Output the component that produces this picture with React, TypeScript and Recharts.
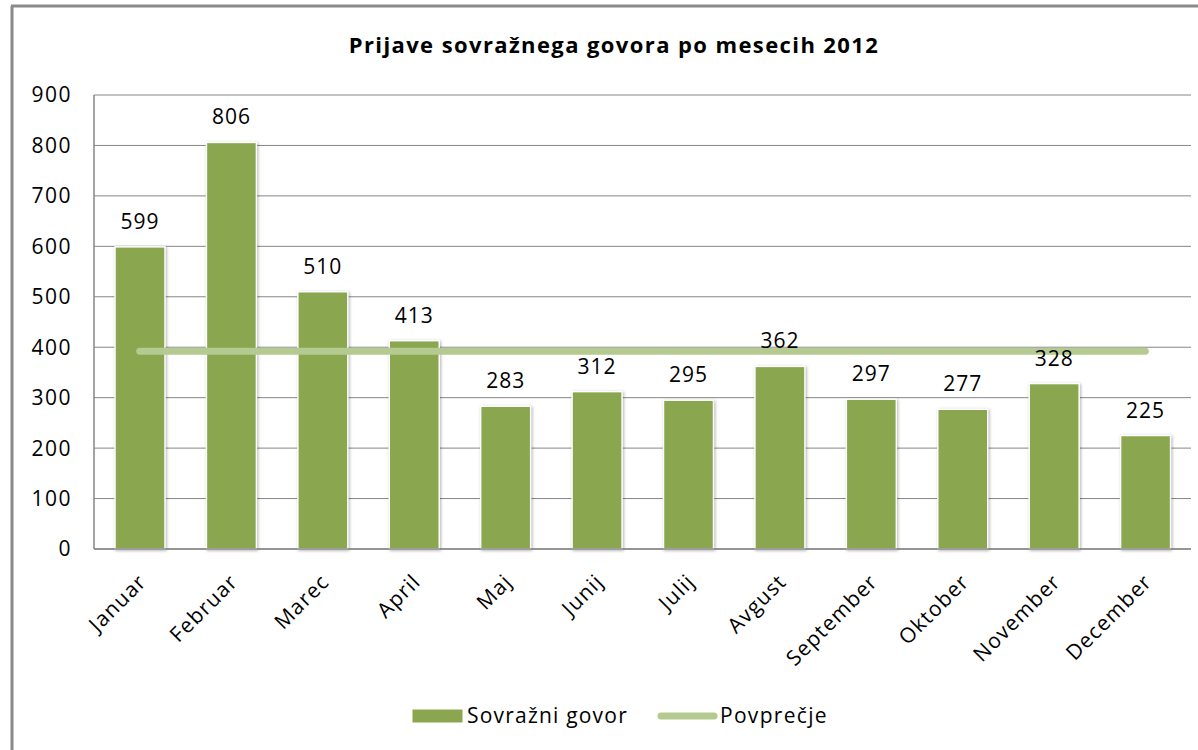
import React from 'react';
import { ComposedChart, Bar, Line, XAxis, YAxis, CartesianGrid, LabelList, Legend } from 'recharts';

const months = ['Januar', 'Februar', 'Marec', 'April', 'Maj', 'Junij', 'Julij', 'Avgust', 'September', 'Oktober', 'November', 'December'];
const reports = [599, 806, 510, 413, 283, 312, 295, 362, 297, 277, 328, 225];
const averageValues = [392.25, 392.25, 392.25, 392.25, 392.25, 392.25, 392.25, 392.25, 392.25, 392.25, 392.25, 392.25];
const yTicks = [0, 100, 200, 300, 400, 500, 600, 700, 800, 900];
const seriesNames = ['Sovražni govor', 'Povprečje'];
const title = 'Prijave sovražnega govora po mesecih 2012';

const data = months.map((m, i) => ({ month: m, govor: reports[i], avg: averageValues[i] }));

const FONT = '"Open Sans", sans-serif';
const BAR_COLOR = '#8aa64f';
const LINE_COLOR = '#b4ca91';
const GRID = '#868686';

const XTick = (props: any) => {
  const { x, y, payload } = props;
  const ax = x + 8;
  const ay = y + 4;
  return (
    <text
      x={ax}
      y={ay}
      transform={`rotate(-45, ${ax}, ${ay})`}
      textAnchor="end"
      fontFamily={FONT}
      fontSize={21}
      letterSpacing={1.2}
      fill="#000"
    >
      {payload.value}
    </text>
  );
};

const BarShape = (props: any) => {
  const { x, y, width, height } = props;
  if (height <= 0) return null;
  return (
    <rect
      x={x}
      y={y}
      width={width}
      height={height}
      fill={BAR_COLOR}
      stroke="#ffffff"
      strokeWidth={1.5}
      style={{ filter: 'drop-shadow(1px 1px 1.5px rgba(0,0,0,0.3))' }}
    />
  );
};

const LegendContent = () => (
  <svg width={1198} height={40}>
    <rect x={412} y={8} width={51} height={14} fill={BAR_COLOR} stroke="#fff" strokeWidth={1} />
    <text x={467} y={22} fontFamily={FONT} fontSize={21} letterSpacing={1.2} fill="#000">
      {seriesNames[0]}
    </text>
    <line x1={661} y1={15} x2={714} y2={15} stroke={LINE_COLOR} strokeWidth={7} strokeLinecap="round" />
    <text x={720} y={22} fontFamily={FONT} fontSize={21} letterSpacing={1.3} fill="#000">
      {seriesNames[1]}
    </text>
  </svg>
);

export default function App() {
  return (
    <div style={{ position: 'absolute', left: 0, top: 0, width: 1198, height: 750, background: '#fff' }}>
      <svg width={1198} height={750} style={{ position: 'absolute', left: 0, top: 0 }}>
        <line x1={12} y1={6} x2={12} y2={750} stroke="#8a8a8a" strokeWidth={3} />
        <line x1={11} y1={6} x2={1198} y2={6} stroke="#8a8a8a" strokeWidth={3} />
        <text x={614} y={53} textAnchor="middle" fontFamily={FONT} fontWeight={700} fontSize={22} letterSpacing={1.4} fill="#000">
          {title}
        </text>
      </svg>
      <div style={{ position: 'absolute', left: 0, top: 0 }}>
        <ComposedChart
          width={1198}
          height={750}
          data={data}
          margin={{ top: 95, right: 7, left: 0, bottom: 0 }}
          barCategoryGap={0}
        >
          <CartesianGrid horizontal={true} vertical={false} stroke={GRID} strokeWidth={1} />
          <XAxis
            dataKey="month"
            height={201}
            interval={0}
            tickLine={false}
            axisLine={{ stroke: GRID, strokeWidth: 1.5 }}
            tickSize={0}
            tickMargin={30}
            tick={<XTick />}
          />
          <YAxis
            width={94}
            domain={[0, 900]}
            ticks={yTicks}
            tickLine={false}
            tickSize={0}
            tickMargin={22}
            axisLine={{ stroke: GRID, strokeWidth: 1.5 }}
            tick={{ fontFamily: FONT, fontSize: 21, fill: '#000', letterSpacing: 1.5 } as any}
          />
          <Bar dataKey="govor" name={seriesNames[0]} barSize={50} shape={<BarShape />} isAnimationActive={false}>
            <LabelList
              dataKey="govor"
              position="top"
              offset={18}
              fontFamily={FONT}
              fontSize={21}
              letterSpacing={1}
              fill="#000"
            />
          </Bar>
          <Line
            dataKey="avg"
            name={seriesNames[1]}
            stroke={LINE_COLOR}
            strokeWidth={7}
            strokeLinecap="round"
            dot={false}
            activeDot={false}
            isAnimationActive={false}
          />
          <Legend
            layout="vertical"
            align="center"
            verticalAlign="middle"
            content={<LegendContent />}
            wrapperStyle={{ position: 'absolute', left: 0, top: 701, width: 1198, height: 40 }}
          />
        </ComposedChart>
      </div>
    </div>
  );
}
